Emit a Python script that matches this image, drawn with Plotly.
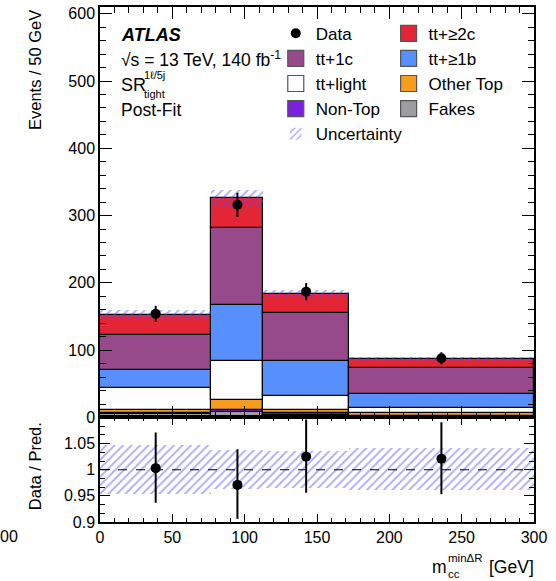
import plotly.graph_objects as go

# ---------------- data ----------------
bin_lo = [0, 77, 113, 172]
bin_hi = [77, 113, 172, 300]

fakes     = [4.5, 7.4, 3.9, 1.5]
non_top   = [2.0, 3.0, 2.0, 1.0]
other_top = [5.0, 15.8, 5.5, 3.9]
tt_light  = [32.6, 57.2, 20.2, 8.0]
tt_1b     = [27.1, 83.0, 52.4, 20.7]
tt_1c     = [51.4, 115.5, 71.1, 39.0]
tt_2c     = [29.5, 43.6, 28.2, 12.3]

data_vals = [154, 316, 187, 88]
data_err  = [12, 18, 13, 9]

ratio_vals    = [1.003, 0.971, 1.025, 1.021]
ratio_err_up  = [0.068, 0.068, 0.071, 0.070]
ratio_err_dn  = [0.066, 0.065, 0.069, 0.068]
unc_rel       = [0.047, 0.037, 0.035, 0.040]

ratio_ticks = [0.9, 0.95, 1.0, 1.05]
ratio_tick_text = ["0.9", "0.95", "1", "1.05"]

# ---------------- derived ----------------
centers = [(a + b) / 2 for a, b in zip(bin_lo, bin_hi)]
widths = [b - a for a, b in zip(bin_lo, bin_hi)]

C_2C = "#e42536"
C_1C = "#964a8b"
C_1B = "#5790fc"
C_LIGHT = "#ffffff"
C_OTHER = "#f89c20"
C_NONTOP = "#7a21dd"
C_FAKES = "#9c9ca1"
C_HATCH = "#4d4dff"

FONT = "Liberation Sans, Arial, Helvetica, sans-serif"

stack = [
    ("Fakes", fakes, C_FAKES),
    ("Non-Top", non_top, C_NONTOP),
    ("Other Top", other_top, C_OTHER),
    ("tt+light", tt_light, C_LIGHT),
    ("tt+≥1b", tt_1b, C_1B),
    ("tt+1c", tt_1c, C_1C),
    ("tt+≥2c", tt_2c, C_2C),
]

fig = go.Figure()

bases = [0.0] * len(centers)
for name, vals, color in stack:
    fig.add_trace(go.Bar(
        x=centers, y=vals, base=list(bases), width=widths,
        marker=dict(color=color, line=dict(color="black", width=1.2)),
        xaxis="x", yaxis="y", showlegend=False, name=name,
    ))
    bases = [b + v for b, v in zip(bases, vals)]
total = bases

hatch = dict(shape="/", fgcolor=C_HATCH, bgcolor="rgba(0,0,0,0)", size=6, solidity=0.3)

# uncertainty band main
fig.add_trace(go.Bar(
    x=centers, y=[2 * t * u for t, u in zip(total, unc_rel)],
    base=[t * (1 - u) for t, u in zip(total, unc_rel)], width=widths,
    marker=dict(color="rgba(0,0,0,0)", line=dict(width=0), pattern=hatch),
    xaxis="x", yaxis="y", name="Uncertainty", legend="legend", legendrank=5,
))

# data main
fig.add_trace(go.Scatter(
    x=centers, y=data_vals, mode="markers",
    marker=dict(color="black", size=10),
    error_y=dict(type="data", array=data_err, color="black", thickness=2, width=0),
    xaxis="x", yaxis="y", name="Data", legend="legend", legendrank=1,
))

# legend proxies (squares)
leg_col1 = [("tt+1c", C_1C, 2), ("tt+light", C_LIGHT, 3), ("Non-Top", C_NONTOP, 4)]
leg_col2 = [("tt+≥2c", C_2C, 1), ("tt+≥1b", C_1B, 2), ("Other Top", C_OTHER, 3), ("Fakes", C_FAKES, 4)]
for name, color, rank in leg_col1:
    fig.add_trace(go.Scatter(x=[None], y=[None], mode="markers", name=name,
                             marker=dict(symbol="square", size=16, color=color,
                                         line=dict(color="#555555", width=1.2)),
                             xaxis="x", yaxis="y", legend="legend", legendrank=rank))
for name, color, rank in leg_col2:
    fig.add_trace(go.Scatter(x=[None], y=[None], mode="markers", name=name,
                             marker=dict(symbol="square", size=16, color=color,
                                         line=dict(color="#555555", width=1.2)),
                             xaxis="x", yaxis="y", legend="legend2", legendrank=rank))

# ratio band
fig.add_trace(go.Bar(
    x=centers, y=[2 * u for u in unc_rel], base=[1 - u for u in unc_rel], width=widths,
    marker=dict(color="rgba(0,0,0,0)", line=dict(width=0), pattern=hatch),
    xaxis="x2", yaxis="y2", showlegend=False,
))
# ratio data
fig.add_trace(go.Scatter(
    x=centers, y=ratio_vals, mode="markers",
    marker=dict(color="black", size=10),
    error_y=dict(type="data", symmetric=False, array=ratio_err_up, arrayminus=ratio_err_dn,
                 color="black", thickness=2, width=0),
    xaxis="x2", yaxis="y2", showlegend=False,
))
fig.add_shape(type="line", xref="x2", yref="y2", x0=0, x1=300, y0=1, y1=1,
              line=dict(color="black", width=1.2, dash="dash"))

split = 0.203
common = dict(showline=True, linecolor="black", linewidth=1.5, mirror="allticks",
              ticks="inside", tickcolor="black", showgrid=False, zeroline=False,
              tickfont=dict(family=FONT, size=16, color="black"))

LEGFONT = 17
fig.update_layout(
    width=556, height=581,
    margin=dict(l=100, r=22, t=5, b=59),
    paper_bgcolor="white", plot_bgcolor="white",
    barmode="overlay", bargap=0,
    font=dict(family=FONT, size=16, color="black"),
    xaxis=dict(domain=[0, 1], anchor="y", range=[0, 300], dtick=50, tick0=0,
               showticklabels=False, ticklen=12, tickwidth=1.2,
               minor=dict(ticks="inside", ticklen=6, dtick=10, tickcolor="black", tickwidth=1),
               **common),
    yaxis=dict(domain=[split, 1], anchor="x", range=[0, 610], dtick=100, tick0=0,
               ticklen=12, tickwidth=1.2,
               minor=dict(ticks="inside", ticklen=6, dtick=20, tickcolor="black", tickwidth=1),
               **common),
    xaxis2=dict(domain=[0, 1], anchor="y2", range=[0, 300], dtick=50, tick0=0,
                ticklen=8, tickwidth=1.2,
                minor=dict(ticks="inside", ticklen=4, dtick=10, tickcolor="black", tickwidth=1),
                **common),
    yaxis2=dict(domain=[0, split], anchor="x2", range=[0.9, 1.1],
                tickvals=ratio_ticks, ticktext=ratio_tick_text,
                ticklen=10, tickwidth=1.2,
                minor=dict(ticks="inside", ticklen=5, dtick=0.05 / 3, tick0=0.9,
                           tickcolor="black", tickwidth=1),
                **common),
    legend=dict(x=0.405, y=0.983, xanchor="left", yanchor="top", bgcolor="rgba(0,0,0,0)",
                font=dict(family=FONT, size=LEGFONT), traceorder="normal", tracegroupgap=0),
    legend2=dict(x=0.665, y=0.983, xanchor="left", yanchor="top", bgcolor="rgba(0,0,0,0)",
                 font=dict(family=FONT, size=LEGFONT), traceorder="normal", tracegroupgap=0),
)

def px_x(p):
    return (p - 100) / 434.0

def px_y(p):
    return (522 - p) / 517.0

ann = [
    dict(text="<b><i>ATLAS</i></b>", x=px_x(119), y=px_y(33), size=18, xa="left"),
    dict(text="√s = 13 TeV, 140 fb<sup>-1</sup>", x=px_x(119), y=px_y(57), size=17.5, xa="left"),
    dict(text="SR", x=px_x(119), y=px_y(83), size=18, xa="left"),
    dict(text="1ℓ/5j", x=px_x(142), y=px_y(73), size=11, xa="left"),
    dict(text="tight", x=px_x(142), y=px_y(92), size=11, xa="left"),
    dict(text="Post-Fit", x=px_x(119), y=px_y(108), size=17.5, xa="left"),
    dict(text="m", x=px_x(449), y=px_y(567), size=17.5, xa="right"),
    dict(text="minΔR", x=px_x(446), y=px_y(558), size=11.5, xa="left"),
    dict(text="cc", x=px_x(446), y=px_y(574), size=11.5, xa="left"),
    dict(text="[GeV]", x=px_x(536), y=px_y(567), size=17.5, xa="right"),
]
for a in ann:
    fig.add_annotation(text=a["text"], x=a["x"], y=a["y"], xref="paper", yref="paper",
                       xanchor=a["xa"], yanchor="middle", showarrow=False,
                       font=dict(family=FONT, size=a["size"], color="black"))

# partial tick label of a neighbouring panel at the far left edge
fig.add_annotation(text="00", x=px_x(-2), y=px_y(537), xref="paper", yref="paper",
                   xanchor="left", yanchor="middle", showarrow=False,
                   font=dict(family=FONT, size=16, color="black"))

fig.add_annotation(text="Events / 50 GeV", x=px_x(35), y=px_y(6), xref="paper", yref="paper",
                   xanchor="center", yanchor="top", textangle=-90, showarrow=False,
                   font=dict(family=FONT, size=16.5, color="black"))
fig.add_annotation(text="Data / Pred.", x=px_x(35), y=px_y(466), xref="paper", yref="paper",
                   xanchor="center", yanchor="middle", textangle=-90, showarrow=False,
                   font=dict(family=FONT, size=16.5, color="black"))

fig.write_html("out.html")
